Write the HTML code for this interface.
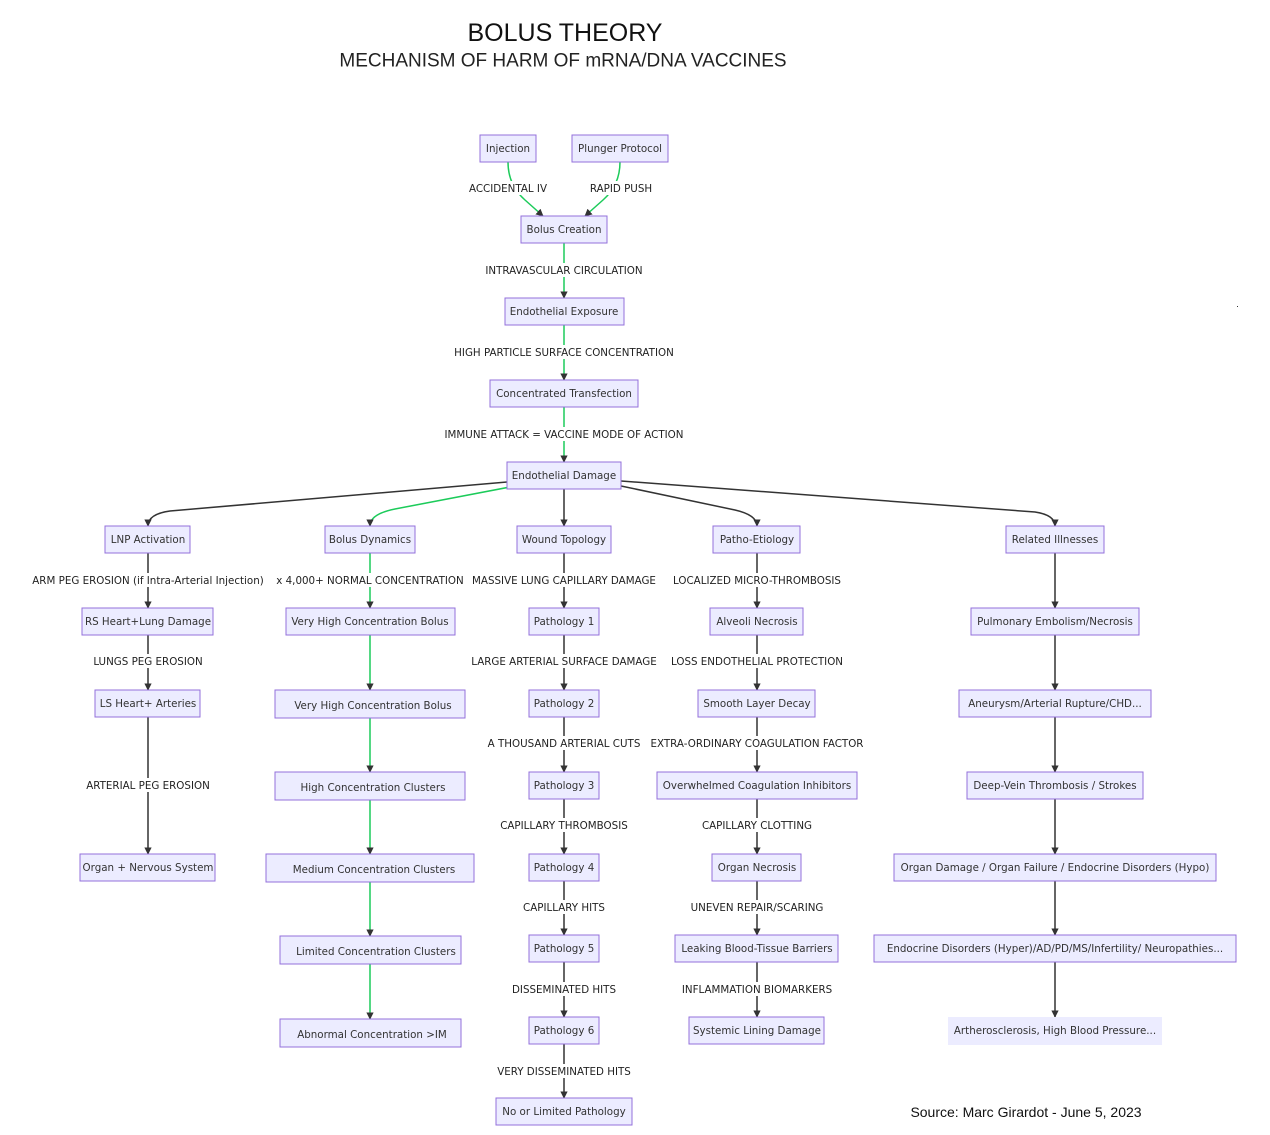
<!DOCTYPE html>
<html><head><meta charset="utf-8"><style>
body{margin:0;background:#fff}
svg{display:block}
.n rect{fill:#ECECFF;stroke:#9370DB;stroke-width:1}
text{font-family:"DejaVu Sans","Liberation Sans",sans-serif;font-size:10.3px;fill:#333;text-anchor:middle;dominant-baseline:central}
.n text,.l text{transform:translateY(1px)}
.l rect{fill:#fff}
.l text{fill:#222}
path.e{fill:none;stroke:#333;stroke-width:1.5}
path.g{fill:none;stroke:#1ccb5a;stroke-width:1.5}
</style></head><body>
<svg width="1270" height="1135" viewBox="0 0 1270 1135">
<defs><marker id="a" viewBox="0 0 10 10" refX="9" refY="5" markerWidth="5" markerHeight="5" orient="auto"><path d="M0,0L10,5L0,10z" fill="#333"/></marker></defs>
<text x="565" y="33" style="font-family:'Liberation Sans',sans-serif;font-size:25px;fill:#111">BOLUS THEORY</text>
<text x="563" y="61" style="font-family:'Liberation Sans',sans-serif;font-size:19px;fill:#222">MECHANISM OF HARM OF mRNA/DNA VACCINES</text>
<text x="1026" y="1112" style="font-family:'Liberation Sans',sans-serif;font-size:14px;fill:#111">Source: Marc Girardot - June 5, 2023</text>
<rect x="1237" y="306" width="1" height="1" fill="#333"/>

<g marker-end="url(#a)">
<path class="g" d="M508,162 Q508,185 525,200 L543,216"/>
<path class="g" d="M620,162 Q620,185 603,200 L585,216"/>
<path class="g" d="M564,243 V298"/>
<path class="g" d="M564,325 V380"/>
<path class="g" d="M564,407 V462"/>
<path class="e" d="M507,482 L170,511 Q148,514 148,526"/>
<path class="g" d="M510,487 L395,509 Q370,514 370,526"/>
<path class="e" d="M564,489 V526"/>
<path class="e" d="M621,486 L735,510 Q757,515 757,526"/>
<path class="e" d="M621,481 L1035,512 Q1055,515 1055,526"/>
<path class="e" d="M148,553 V608"/><path class="e" d="M148,635 V690"/><path class="e" d="M148,717 V854"/>
<path class="g" d="M370,553 V608"/><path class="g" d="M370,635 V690"/><path class="g" d="M370,718 V772"/><path class="g" d="M370,800 V854"/><path class="g" d="M370,882 V936"/><path class="g" d="M370,964 V1019"/>
<path class="e" d="M564,553 V608"/><path class="e" d="M564,635 V690"/><path class="e" d="M564,717 V772"/><path class="e" d="M564,799 V854"/><path class="e" d="M564,881 V935"/><path class="e" d="M564,962 V1017"/><path class="e" d="M564,1044 V1098"/>
<path class="e" d="M757,553 V608"/><path class="e" d="M757,635 V690"/><path class="e" d="M757,717 V772"/><path class="e" d="M757,799 V854"/><path class="e" d="M757,881 V935"/><path class="e" d="M757,962 V1017"/>
<path class="e" d="M1055,553 V608"/><path class="e" d="M1055,635 V690"/><path class="e" d="M1055,717 V772"/><path class="e" d="M1055,799 V854"/><path class="e" d="M1055,881 V935"/><path class="e" d="M1055,962 V1017"/>
</g>

<g class="l">
<rect x="469" y="181" width="78" height="14"/><text x="508" y="188">ACCIDENTAL IV</text>
<rect x="589" y="181" width="64" height="14"/><text x="621" y="188">RAPID PUSH</text>
<rect x="487" y="263" width="154" height="14"/><text x="564" y="270">INTRAVASCULAR CIRCULATION</text>
<rect x="455" y="345" width="218" height="14"/><text x="564" y="352">HIGH PARTICLE SURFACE CONCENTRATION</text>
<rect x="448" y="427" width="232" height="14"/><text x="564" y="434">IMMUNE ATTACK = VACCINE MODE OF ACTION</text>
<rect x="30" y="573" width="236" height="14"/><text x="148" y="580">ARM PEG EROSION (if Intra-Arterial Injection)</text>
<rect x="94" y="654" width="108" height="14"/><text x="148" y="661">LUNGS PEG EROSION</text>
<rect x="88" y="778" width="120" height="14"/><text x="148" y="785">ARTERIAL PEG EROSION</text>
<rect x="279" y="573" width="182" height="14"/><text x="370" y="580">x 4,000+ NORMAL CONCENTRATION</text>
<rect x="474" y="573" width="180" height="14"/><text x="564" y="580">MASSIVE LUNG CAPILLARY DAMAGE</text>
<rect x="474" y="654" width="180" height="14"/><text x="564" y="661">LARGE ARTERIAL SURFACE DAMAGE</text>
<rect x="490" y="736" width="148" height="14"/><text x="564" y="743">A THOUSAND ARTERIAL CUTS</text>
<rect x="502" y="818" width="124" height="14"/><text x="564" y="825">CAPILLARY THROMBOSIS</text>
<rect x="523" y="900" width="82" height="14"/><text x="564" y="907">CAPILLARY HITS</text>
<rect x="514" y="982" width="100" height="14"/><text x="564" y="989">DISSEMINATED HITS</text>
<rect x="503" y="1064" width="122" height="14"/><text x="564" y="1071">VERY DISSEMINATED HITS</text>
<rect x="675" y="573" width="164" height="14"/><text x="757" y="580">LOCALIZED MICRO-THROMBOSIS</text>
<rect x="672" y="654" width="170" height="14"/><text x="757" y="661">LOSS ENDOTHELIAL PROTECTION</text>
<rect x="651" y="736" width="212" height="14"/><text x="757" y="743">EXTRA-ORDINARY COAGULATION FACTOR</text>
<rect x="701" y="818" width="112" height="14"/><text x="757" y="825">CAPILLARY CLOTTING</text>
<rect x="691" y="900" width="132" height="14"/><text x="757" y="907">UNEVEN REPAIR/SCARING</text>
<rect x="684" y="982" width="146" height="14"/><text x="757" y="989">INFLAMMATION BIOMARKERS</text>
</g>

<g class="n">
<rect x="480" y="135" width="56" height="27"/><text x="508" y="148">Injection</text>
<rect x="572" y="135" width="96" height="27"/><text x="620" y="148">Plunger Protocol</text>
<rect x="521" y="216" width="86" height="27"/><text x="564" y="229">Bolus Creation</text>
<rect x="505" y="298" width="119" height="27"/><text x="564" y="311">Endothelial Exposure</text>
<rect x="490" y="380" width="148" height="27"/><text x="564" y="393">Concentrated Transfection</text>
<rect x="507" y="462" width="114" height="27"/><text x="564" y="475">Endothelial Damage</text>

<rect x="105" y="526" width="85" height="27"/><text x="148" y="539">LNP Activation</text>
<rect x="82" y="608" width="131" height="27"/><text x="148" y="621">RS Heart+Lung Damage</text>
<rect x="95" y="690" width="105" height="27"/><text x="148" y="703">LS Heart+ Arteries</text>
<rect x="80" y="854" width="135" height="27"/><text x="148" y="867">Organ + Nervous System</text>

<rect x="325" y="526" width="90" height="27"/><text x="370" y="539">Bolus Dynamics</text>
<rect x="286" y="608" width="169" height="27"/><text x="370" y="621">Very High Concentration Bolus</text>
<rect x="275" y="690" width="190" height="28"/><text x="373" y="705">Very High Concentration Bolus</text>
<rect x="275" y="772" width="190" height="28"/><text x="373" y="787">High Concentration Clusters</text>
<rect x="266" y="854" width="208" height="28"/><text x="374" y="869">Medium Concentration Clusters</text>
<rect x="280" y="936" width="181" height="28"/><text x="376" y="951">Limited Concentration Clusters</text>
<rect x="280" y="1019" width="181" height="28"/><text x="372" y="1034">Abnormal Concentration &gt;IM</text>

<rect x="517" y="526" width="94" height="27"/><text x="564" y="539">Wound Topology</text>
<rect x="529" y="608" width="70" height="27"/><text x="564" y="621">Pathology 1</text>
<rect x="529" y="690" width="70" height="27"/><text x="564" y="703">Pathology 2</text>
<rect x="529" y="772" width="70" height="27"/><text x="564" y="785">Pathology 3</text>
<rect x="529" y="854" width="70" height="27"/><text x="564" y="867">Pathology 4</text>
<rect x="529" y="935" width="70" height="27"/><text x="564" y="948">Pathology 5</text>
<rect x="529" y="1017" width="70" height="27"/><text x="564" y="1030">Pathology 6</text>
<rect x="496" y="1098" width="136" height="27"/><text x="564" y="1111">No or Limited Pathology</text>

<rect x="713" y="526" width="87" height="27"/><text x="757" y="539">Patho-Etiology</text>
<rect x="710" y="608" width="93" height="27"/><text x="757" y="621">Alveoli Necrosis</text>
<rect x="698" y="690" width="117" height="27"/><text x="757" y="703">Smooth Layer Decay</text>
<rect x="657" y="772" width="200" height="27"/><text x="757" y="785">Overwhelmed Coagulation Inhibitors</text>
<rect x="712" y="854" width="89" height="27"/><text x="757" y="867">Organ Necrosis</text>
<rect x="675" y="935" width="163" height="27"/><text x="757" y="948">Leaking Blood-Tissue Barriers</text>
<rect x="689" y="1017" width="135" height="27"/><text x="757" y="1030">Systemic Lining Damage</text>

<rect x="1006" y="526" width="98" height="27"/><text x="1055" y="539">Related Illnesses</text>
<rect x="971" y="608" width="168" height="27"/><text x="1055" y="621">Pulmonary Embolism/Necrosis</text>
<rect x="959" y="690" width="192" height="27"/><text x="1055" y="703">Aneurysm/Arterial Rupture/CHD...</text>
<rect x="967" y="772" width="176" height="27"/><text x="1055" y="785">Deep-Vein Thrombosis / Strokes</text>
<rect x="894" y="854" width="322" height="27"/><text x="1055" y="867">Organ Damage / Organ Failure / Endocrine Disorders (Hypo)</text>
<rect x="874" y="935" width="362" height="27"/><text x="1055" y="948">Endocrine Disorders (Hyper)/AD/PD/MS/Infertility/ Neuropathies...</text>
<rect x="948" y="1017" width="214" height="28" style="stroke:none"/><text x="1055" y="1030">Artherosclerosis, High Blood Pressure...</text>
</g>
</svg>
</body></html>
